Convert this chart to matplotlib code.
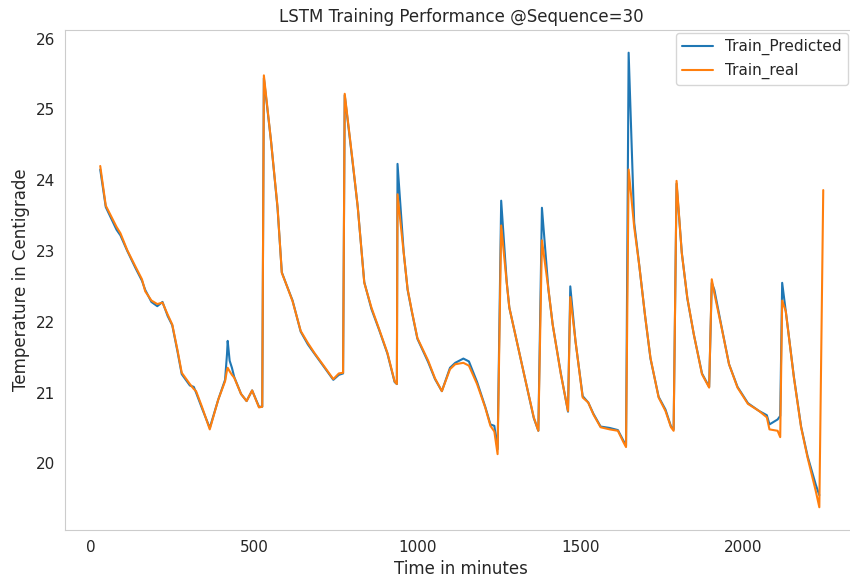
import numpy as np
import matplotlib
matplotlib.use("Agg")
import matplotlib.pyplot as plt
import seaborn as sns

minutes = [28, 45, 78, 90, 111, 136, 156, 166, 185, 203, 219, 235, 249, 265, 278,
           303, 315, 322, 340, 364, 390, 411, 417, 419, 425, 432, 439, 460, 477, 494,
           515, 525, 530, 552, 572, 585, 597, 618, 643, 665, 685, 718, 743, 760, 773,
           778, 801, 818, 838, 860, 884, 909, 931, 938, 940, 959, 971, 984, 1001, 1034,
           1055, 1076, 1101, 1117, 1142, 1159, 1184, 1209, 1225, 1237, 1247, 1258, 1275, 1283, 1308,
           1333, 1358, 1372, 1383, 1403, 1416, 1441, 1463, 1470, 1486, 1508, 1525, 1541, 1563, 1591,
           1616, 1633, 1641, 1649, 1666, 1682, 1699, 1716, 1741, 1762, 1779, 1787, 1796, 1812, 1829,
           1849, 1874, 1896, 1904, 1912, 1934, 1957, 1983, 2015, 2049, 2073, 2081, 2106, 2114, 2120,
           2131, 2156, 2178, 2198, 2223, 2234, 2246]

train_real = [24.20, 23.64, 23.34, 23.25, 23.01, 22.78, 22.60, 22.43, 22.30, 22.25, 22.27, 22.10, 21.96, 21.60, 21.28,
              21.12, 21.05, 21.02, 20.80, 20.48, 20.90, 21.16, 21.32, 21.35, 21.30, 21.25, 21.21, 20.98, 20.88, 21.03,
              20.79, 20.80, 25.48, 24.55, 23.62, 22.69, 22.55, 22.29, 21.87, 21.70, 21.56, 21.35, 21.19, 21.27, 21.28,
              25.22, 24.32, 23.62, 22.55, 22.20, 21.89, 21.56, 21.16, 21.12, 23.80, 22.97, 22.46, 22.15, 21.77, 21.45,
              21.20, 21.02, 21.33, 21.40, 21.42, 21.38, 21.12, 20.79, 20.53, 20.45, 20.13, 23.36, 22.55, 22.20, 21.68,
              21.16, 20.65, 20.46, 23.15, 22.46, 21.96, 21.26, 20.74, 22.35, 21.73, 20.93, 20.86, 20.69, 20.51, 20.48,
              20.46, 20.30, 20.23, 24.15, 23.34, 22.78, 22.10, 21.49, 20.93, 20.74, 20.51, 20.46, 23.99, 22.97, 22.34,
              21.82, 21.26, 21.07, 22.60, 22.40, 21.92, 21.40, 21.07, 20.84, 20.74, 20.65, 20.48, 20.46, 20.37, 22.30,
              22.15, 21.21, 20.51, 20.08, 19.61, 19.38, 23.86]

train_pred = [24.15, 23.62, 23.30, 23.22, 23.00, 22.76, 22.58, 22.45, 22.28, 22.22, 22.28, 22.08, 21.95, 21.58, 21.26,
              21.10, 21.08, 21.00, 20.78, 20.50, 20.90, 21.18, 21.55, 21.73, 21.45, 21.35, 21.22, 20.98, 20.88, 21.03,
              20.80, 20.80, 25.44, 24.55, 23.60, 22.70, 22.55, 22.30, 21.86, 21.68, 21.55, 21.34, 21.18, 21.25, 21.27,
              25.20, 24.30, 23.62, 22.56, 22.18, 21.88, 21.55, 21.15, 21.12, 24.23, 22.98, 22.45, 22.14, 21.76, 21.43,
              21.19, 21.02, 21.35, 21.42, 21.48, 21.44, 21.15, 20.80, 20.55, 20.53, 20.20, 23.71, 22.56, 22.20, 21.68,
              21.16, 20.64, 20.46, 23.61, 22.45, 21.96, 21.27, 20.73, 22.50, 21.72, 20.95, 20.86, 20.70, 20.52, 20.50,
              20.47, 20.32, 20.25, 25.80, 23.40, 22.78, 22.10, 21.48, 20.94, 20.76, 20.52, 20.48, 23.95, 22.98, 22.33,
              21.82, 21.27, 21.08, 22.55, 22.45, 21.93, 21.40, 21.08, 20.85, 20.74, 20.68, 20.55, 20.62, 20.67, 22.55,
              22.15, 21.22, 20.52, 20.10, 19.70, 19.55, np.nan]

sns.set_style("whitegrid")

fig = plt.figure(figsize=(8.5, 5.81), dpi=100)
ax = fig.add_subplot(111)
# the reference is cropped: axes carry on past the right edge
ax.set_position([0.0765, 0.0878, 0.953, 0.8606])

ax.plot(minutes, train_pred, color="#1f77b4", lw=1.5, label="Train_Predicted")
ax.plot(minutes, train_real, color="#ff7f0e", lw=1.5, label="Train_real")
ax.grid(False)
ax.set_xlim(-80, 2405)

# centre texts where the uncropped axes centre was
ax.set_title("LSTM Training Performance @Sequence=30", fontsize=12, color=".15", x=0.489)
ax.set_xlabel("Time in minutes", fontsize=12, x=0.489)
ax.set_ylabel("Temperature in Centigrade", fontsize=12)
ax.tick_params(labelsize=11)
ax.legend(loc="upper right", fontsize=11, bbox_to_anchor=(848 / 850, 1 - 33 / 581),
          bbox_transform=fig.transFigure, borderaxespad=0)

fig.savefig("out.png", dpi=100)
